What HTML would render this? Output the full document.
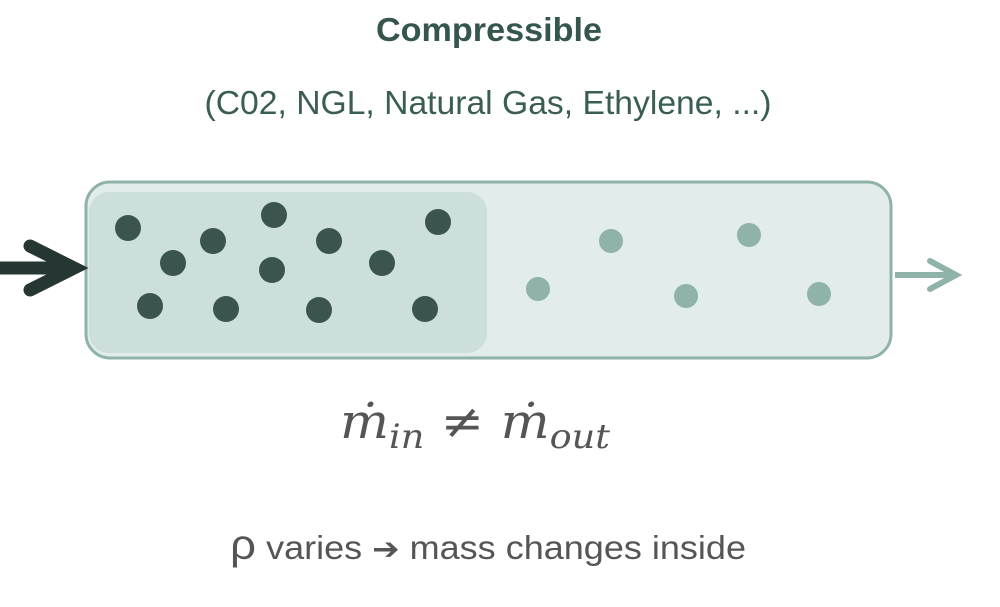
<!DOCTYPE html>
<html><head><style>body{margin:0;background:#fff}</style></head><body>
<svg width="1000" height="602" xmlns="http://www.w3.org/2000/svg">
<text x="489" y="41" text-anchor="middle" font-family="Liberation Sans, sans-serif" font-weight="bold" font-size="33" fill="#35564e" textLength="226" lengthAdjust="spacingAndGlyphs">Compressible</text>
<text x="488" y="114" text-anchor="middle" font-family="Liberation Sans, sans-serif" font-size="33" fill="#3a5d54" textLength="567" lengthAdjust="spacingAndGlyphs">(C02, NGL, Natural Gas, Ethylene, ...)</text>
<rect x="86" y="182" width="805" height="176" rx="24" fill="#e2ecea" stroke="#8fb2ab" stroke-width="3"/>
<rect x="89" y="192" width="398" height="161" rx="20" fill="#ccdfdc"/>
<g fill="#3b544e">
<circle cx="128" cy="228" r="13"/><circle cx="173" cy="263" r="13"/><circle cx="213" cy="241" r="13"/><circle cx="274" cy="215" r="13"/><circle cx="329" cy="241" r="13"/><circle cx="272" cy="270" r="13"/><circle cx="382" cy="263" r="13"/><circle cx="438" cy="222" r="13"/><circle cx="150" cy="306" r="13"/><circle cx="226" cy="309" r="13"/><circle cx="319" cy="310" r="13"/><circle cx="425" cy="309" r="13"/>
</g>
<g fill="#8fb2aa">
<circle cx="538" cy="289" r="12"/><circle cx="611" cy="241" r="12"/><circle cx="686" cy="296" r="12"/><circle cx="749" cy="235" r="12"/><circle cx="819" cy="294" r="12"/>
</g>
<line x1="0" y1="268" x2="70" y2="268" stroke="#263633" stroke-width="13"/>
<polyline points="30,246 74,268 30,290" fill="none" stroke="#263633" stroke-width="13" stroke-linecap="round" stroke-linejoin="miter"/>
<line x1="895" y1="275" x2="952" y2="275" stroke="#8fb2aa" stroke-width="6"/>
<polyline points="930,261 956,275 930,289" fill="none" stroke="#8fb2aa" stroke-width="6" stroke-linecap="round"/>
<text x="475" y="438" text-anchor="middle" font-family="DejaVu Serif, serif" font-style="italic" font-size="48" fill="#555" textLength="270" lengthAdjust="spacingAndGlyphs">ṁ<tspan font-size="34" dy="10">in</tspan><tspan dy="-10"> ≠ ṁ</tspan><tspan font-size="34" dy="10">out</tspan></text>
<text x="488" y="559" text-anchor="middle" font-family="Liberation Sans, DejaVu Sans, sans-serif" font-size="33" fill="#555" textLength="516" lengthAdjust="spacingAndGlyphs"><tspan font-size="42">ρ</tspan> varies <tspan font-family="DejaVu Sans, sans-serif" font-size="30">➔</tspan> mass changes inside</text>
</svg>
</body></html>
